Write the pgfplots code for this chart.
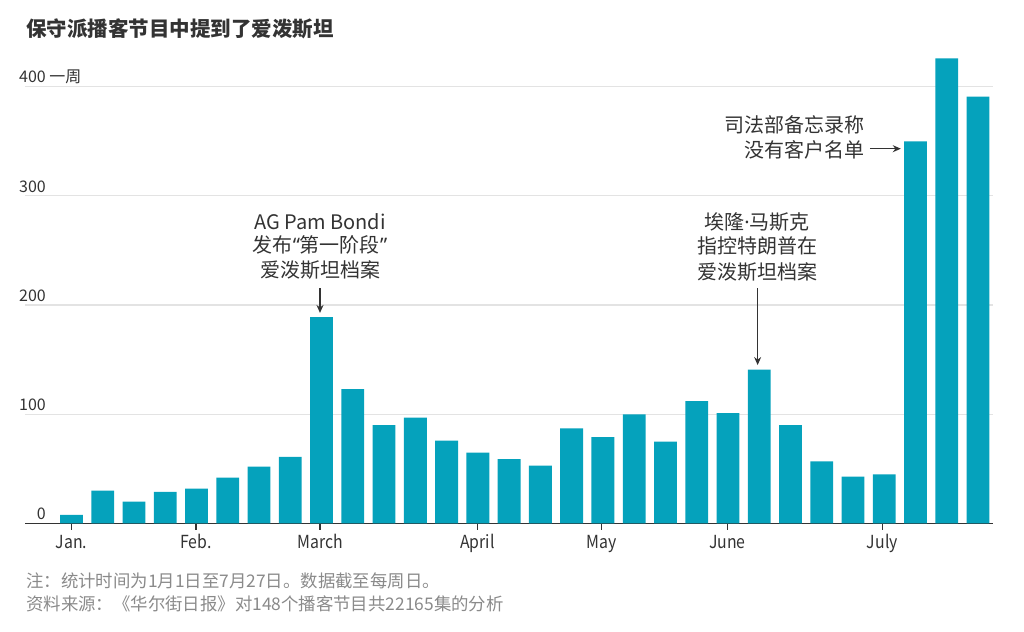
\documentclass[border=0pt]{standalone}
\usepackage{fontspec}
\setmainfont{Noto Sans CJK SC}
\newfontfamily\narrowfont[FakeStretch=0.88]{Noto Sans CJK SC}
\newfontfamily\latinfont{Noto Sans}
\usepackage{pgfplots}
\usepackage{pgfplotstable}
\pgfplotsset{compat=1.18}
\usetikzlibrary{arrows.meta}

\definecolor{barc}{HTML}{05A2BC}
\definecolor{ink}{HTML}{333333}
\definecolor{note}{HTML}{8A8A8A}
\definecolor{gridc}{HTML}{E3E3E3}

% weekly mentions, Jan. to late July
\pgfplotstableread{
idx val
0 8
1 30
2 20
3 29
4 32
5 42
6 52
7 61
8 189
9 123
10 90
11 97
12 76
13 65
14 59
15 53
16 87
17 79
18 100
19 75
20 112
21 101
22 141
23 90
24 57
25 43
26 45
27 350
28 426
29 391
}\weekly

\begin{document}
\begin{tikzpicture}
\useasboundingbox (0,0) rectangle (1024pt,631pt);
\begin{axis}[
    at={(25pt,107.5pt)}, anchor=south west,
    scale only axis, width=967.7pt, height=480.5pt,
    xmin=-1.487, xmax=29.47, ymin=0, ymax=440,
    axis x line*=bottom, axis y line*=left,
    y axis line style={draw=none},
    x axis line style={ink, line width=1.4pt},
    ytick={0,100,200,300,400},
    yticklabels={0,100,200,300,{400\rlap{ 一周}}},
    yticklabel style={anchor=base east, inner sep=0pt, xshift=27pt, yshift=3.7pt,
        text=ink, font=\fontsize{16}{19}\selectfont},
    ytick style={draw=none},
    xtick={0,3.98,7.95,12.99,16.96,20.98,25.94},
    xticklabels={Jan.,Feb.,March,April,May,June,July},
    xticklabel style={anchor=base, inner sep=0pt, yshift=-18.5pt,
        text=ink, font=\narrowfont\fontsize{18}{21}\selectfont},
    xtick style={ink, line width=1.4pt},
    major tick length=6pt, tick align=outside,
    ymajorgrids, grid style={gridc, line width=1.2pt},
    clip=false,
]
\addplot[ybar, bar width=0.73, fill=barc, draw=none] table[x=idx, y=val] {\weekly};

% annotations
\begin{scope}[every node/.style={text=ink, inner sep=0pt, font=\fontsize{20}{24}\selectfont}]
\node at (axis cs:7.95,276.4) {AG Pam Bondi};
\node at (axis cs:7.95,255.3) {发布{\latinfont“}第一阶段{\latinfont”}};
\node at (axis cs:7.95,232.1) {爱泼斯坦档案};
\draw[ink, line width=1.2pt, -{Stealth[length=8pt,width=7pt]}] (axis cs:7.95,215.6) -- (axis cs:7.95,192.8);

\node at (axis cs:21.93,276.4) {埃隆{\latinfont·}马斯克};
\node at (axis cs:21.93,254.1) {指控特朗普在};
\node at (axis cs:21.93,230.6) {爱泼斯坦档案};
\draw[ink, line width=1.2pt, -{Stealth[length=8pt,width=7pt]}] (axis cs:21.95,215.6) -- (axis cs:21.95,145.1);

\node[anchor=east] at (axis cs:25.38,365) {司法部备忘录称};
\node[anchor=east] at (axis cs:25.38,342) {没有客户名单};
\draw[ink, line width=1.2pt, -{Stealth[length=8pt,width=7pt]}] (axis cs:25.54,343.2) -- (axis cs:26.53,343.2);
\end{scope}
\end{axis}

\node[anchor=west, inner sep=0pt, text=ink, font=\fontsize{20.5}{24}\selectfont\bfseries]
    at (26pt,602pt) {保守派播客节目中提到了爱泼斯坦};
\node[anchor=west, inner sep=0pt, text=note, font=\fontsize{17.4}{20}\selectfont]
    at (26pt,50pt) {注：统计时间为1月1日至7月27日。数据截至每周日。};
\node[anchor=west, inner sep=0pt, text=note, font=\fontsize{17.4}{20}\selectfont]
    at (26pt,27pt) {资料来源：《华尔街日报》对148个播客节目共22165集的分析};
\end{tikzpicture}
\end{document}
